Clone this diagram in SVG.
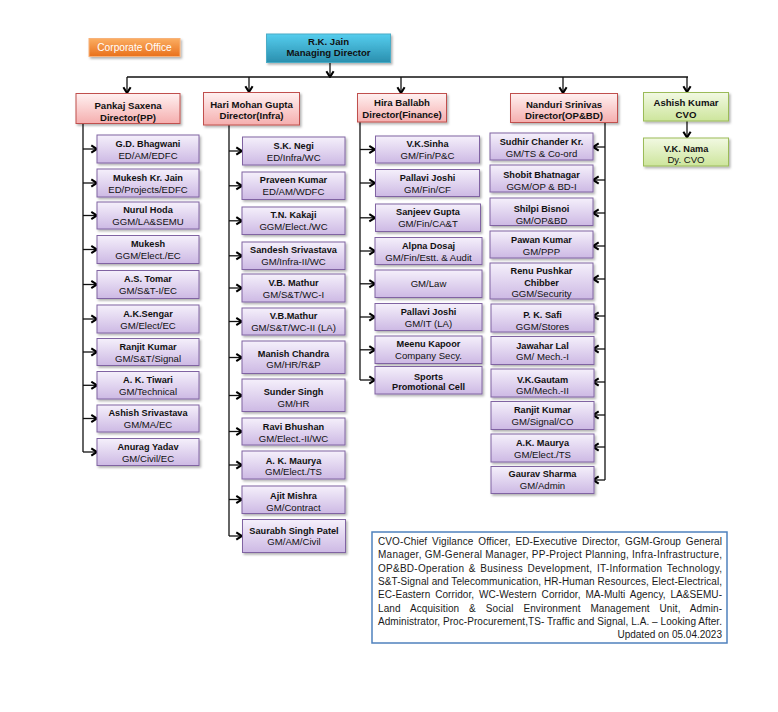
<svg xmlns="http://www.w3.org/2000/svg" width="778" height="712" viewBox="0 0 778 712">
<defs>
<linearGradient id="gPink" x1="0" y1="0" x2="0" y2="1"><stop offset="0" stop-color="#fff1f1"/><stop offset="1" stop-color="#f5aeae"/></linearGradient>
<linearGradient id="gPur" x1="0" y1="0" x2="0" y2="1"><stop offset="0" stop-color="#f5f0fb"/><stop offset="1" stop-color="#cdb9e4"/></linearGradient>
<linearGradient id="gGrn" x1="0" y1="0" x2="0" y2="1"><stop offset="0" stop-color="#f2f9e3"/><stop offset="1" stop-color="#cde59c"/></linearGradient>
<linearGradient id="gTeal" x1="0" y1="0" x2="0" y2="1"><stop offset="0" stop-color="#55cdee"/><stop offset="1" stop-color="#2a8fae"/></linearGradient>
<linearGradient id="gOr" x1="0" y1="0" x2="0" y2="1"><stop offset="0" stop-color="#fbae62"/><stop offset="1" stop-color="#e9701c"/></linearGradient>
<filter id="sh" x="-10%" y="-10%" width="125%" height="140%"><feDropShadow dx="1.5" dy="1.8" stdDeviation="1" flood-color="#000" flood-opacity="0.3"/></filter>
<marker id="ah" viewBox="0 0 10 10" refX="9" refY="5" markerWidth="9.5" markerHeight="9.5" markerUnits="userSpaceOnUse" orient="auto"><path d="M3,1.2 L9,5 L3,8.8" fill="none" stroke="#000" stroke-width="2.2"/></marker>
</defs>
<style>
.pk{fill:url(#gPink);stroke:#c0504d;stroke-width:1;filter:url(#sh)}
.pu{fill:url(#gPur);stroke:#8064a2;stroke-width:1;filter:url(#sh)}
.gr{fill:url(#gGrn);stroke:#9bbb59;stroke-width:1;filter:url(#sh)}
.tl{fill:url(#gTeal);stroke:#4bacc6;stroke-width:1;filter:url(#sh)}
.or{fill:url(#gOr);stroke:#f7b27a;stroke-width:1;filter:url(#sh)}
text{font-family:"Liberation Sans",Arial,sans-serif;text-anchor:middle;fill:#111}
.d{font-size:9.6px;font-weight:bold}
.n{font-size:9.2px;font-weight:bold}
.r{font-size:9.6px}
.w{font-size:10.2px;fill:#fff}
.lg{font-size:10px;text-anchor:start;fill:#1a1a1a}
.ln{fill:none;stroke:#111;stroke-width:1.3}
.ar{fill:none;stroke:#111;stroke-width:1.3;marker-end:url(#ah)}
</style>
<rect width="778" height="712" fill="#fff"/>

<g id="connectors">
<path class="ar" d="M330,62 V77"/>
<path class="ln" d="M127,77 H688" stroke-width="1.6"/>
<path class="ar" d="M127,77 V93"/>
<path class="ar" d="M249,77 V92"/>
<path class="ar" d="M401,77 V93"/>
<path class="ar" d="M563,77 V93"/>
<path class="ar" d="M687,77 V92"/>
<path class="ar" d="M687,121 V137.5"/>
<path class="ln" d="M83,124 V452"/>
<path class="ar" d="M83,149 H97"/><path class="ar" d="M83,183 H97"/><path class="ar" d="M83,215.5 H97"/><path class="ar" d="M83,249.5 H97"/><path class="ar" d="M83,284.5 H97"/><path class="ar" d="M83,319 H97"/><path class="ar" d="M83,352 H97"/><path class="ar" d="M83,385.3 H97"/><path class="ar" d="M83,418.5 H97"/><path class="ar" d="M83,452 H97"/>
<path class="ln" d="M229,125 V536"/>
<path class="ar" d="M229,151 H242"/><path class="ar" d="M229,185.8 H242"/><path class="ar" d="M229,220.8 H242"/><path class="ar" d="M229,255.8 H242"/><path class="ar" d="M229,288 H242"/><path class="ar" d="M229,321.5 H242"/><path class="ar" d="M229,357.5 H242"/><path class="ar" d="M229,395.5 H242"/><path class="ar" d="M229,431.5 H242"/><path class="ar" d="M229,465 H242"/><path class="ar" d="M229,499.5 H242"/><path class="ar" d="M229,536 H242"/>
<path class="ln" d="M360,122 V380"/>
<path class="ar" d="M360,149.5 H375"/><path class="ar" d="M360,183 H375"/><path class="ar" d="M360,217.8 H375"/><path class="ar" d="M360,251 H375"/><path class="ar" d="M360,283.8 H375"/><path class="ar" d="M360,317 H375"/><path class="ar" d="M360,349.8 H375"/><path class="ar" d="M360,380 H375"/>
<path class="ln" d="M605,122 V480"/>
<path class="ar" d="M605,147 H593"/><path class="ar" d="M605,180 H593"/><path class="ar" d="M605,213 H593"/><path class="ar" d="M605,246 H593"/><path class="ar" d="M605,279 H593"/><path class="ar" d="M605,316 H593"/><path class="ar" d="M605,349 H593"/><path class="ar" d="M605,382 H593"/><path class="ar" d="M605,415 H593"/><path class="ar" d="M605,447 H593"/><path class="ar" d="M605,480 H593"/>
</g>

<g id="corporate-office"><rect class="or" x="89" y="38.5" width="91" height="18"/><text class="w" x="134.5" y="51.3">Corporate Office</text></g>
<g id="md"><rect class="tl" x="266.5" y="34" width="124" height="28.5"/><text class="d" x="328.5" y="44.5">R.K. Jain</text><text class="d" x="328.5" y="56.2">Managing Director</text></g>

<g id="dir-pp"><rect class="pk" x="76" y="93.5" width="104" height="30"/><text class="d" x="128" y="109">Pankaj Saxena</text><text class="d" x="128" y="121">Director(PP)</text></g>
<g id="dir-infra"><rect class="pk" x="203.5" y="92.5" width="96" height="32.5"/><text class="d" x="251.5" y="107.8">Hari Mohan Gupta</text><text class="d" x="251.5" y="119.3">Director(Infra)</text></g>
<g id="dir-fin"><rect class="pk" x="357.5" y="93.5" width="89" height="28.5"/><text class="d" x="402" y="106.3">Hira Ballabh</text><text class="d" x="402" y="117.9">Director(Finance)</text></g>
<g id="dir-opbd"><rect class="pk" x="510.5" y="93.5" width="107" height="29"/><text class="d" x="564" y="107.5">Nanduri Srinivas</text><text class="d" x="564" y="118.6">Director(OP&amp;BD)</text></g>
<g id="cvo"><rect class="gr" x="643.5" y="92.5" width="85" height="28.5"/><text class="d" x="686" y="106.3">Ashish Kumar</text><text class="d" x="686" y="117.9">CVO</text></g>
<g id="dy-cvo"><rect class="gr" x="643.5" y="138" width="85" height="28"/><text class="n" x="686" y="151.8">V.K. Nama</text><text class="r" x="686" y="162.9">Dy. CVO</text></g>

<g id="pp-1"><rect class="pu" x="97" y="135" width="102" height="28"/><text class="n" x="148" y="146.5">G.D. Bhagwani</text><text class="r" x="148" y="158.5">ED/AM/EDFC</text></g>
<g id="pp-2"><rect class="pu" x="97" y="169" width="102" height="28"/><text class="n" x="148" y="180.5">Mukesh Kr. Jain</text><text class="r" x="148" y="192.5">ED/Projects/EDFC</text></g>
<g id="pp-3"><rect class="pu" x="97" y="202" width="102" height="27"/><text class="n" x="148" y="213">Nurul Hoda</text><text class="r" x="148" y="225">GGM/LA&amp;SEMU</text></g>
<g id="pp-4"><rect class="pu" x="97" y="235.5" width="102" height="28"/><text class="n" x="148" y="247">Mukesh</text><text class="r" x="148" y="259">GGM/Elect./EC</text></g>
<g id="pp-5"><rect class="pu" x="97" y="270.5" width="102" height="28"/><text class="n" x="148" y="282">A.S. Tomar</text><text class="r" x="148" y="294">GM/S&amp;T-I/EC</text></g>
<g id="pp-6"><rect class="pu" x="97" y="305" width="102" height="28"/><text class="n" x="148" y="316.5">A.K.Sengar</text><text class="r" x="148" y="328.5">GM/Elect/EC</text></g>
<g id="pp-7"><rect class="pu" x="97" y="338.5" width="102" height="27"/><text class="n" x="148" y="349.5">Ranjit Kumar</text><text class="r" x="148" y="361.5">GM/S&amp;T/Signal</text></g>
<g id="pp-8"><rect class="pu" x="97" y="371.5" width="102" height="27.5"/><text class="n" x="148" y="382.8">A. K. Tiwari</text><text class="r" x="148" y="394.8">GM/Technical</text></g>
<g id="pp-9"><rect class="pu" x="97" y="405" width="102" height="27"/><text class="n" x="148" y="416">Ashish Srivastava</text><text class="r" x="148" y="428">GM/MA/EC</text></g>
<g id="pp-10"><rect class="pu" x="97" y="438.5" width="102" height="27"/><text class="n" x="148" y="449.5">Anurag Yadav</text><text class="r" x="148" y="461.5">GM/Civil/EC</text></g>

<g id="in-1"><rect class="pu" x="242.5" y="137" width="102.5" height="28"/><text class="n" x="293.7" y="148.5">S.K. Negi</text><text class="r" x="293.7" y="160.5">ED/Infra/WC</text></g>
<g id="in-2"><rect class="pu" x="242" y="172" width="103" height="27.5"/><text class="n" x="293.5" y="183.3">Praveen Kumar</text><text class="r" x="293.5" y="195.3">ED/AM/WDFC</text></g>
<g id="in-3"><rect class="pu" x="242" y="207" width="103" height="27.5"/><text class="n" x="293.5" y="218.3">T.N. Kakaji</text><text class="r" x="293.5" y="230.3">GGM/Elect./WC</text></g>
<g id="in-4"><rect class="pu" x="242" y="242" width="103" height="27.5"/><text class="n" x="293.5" y="253.3">Sandesh Srivastava</text><text class="r" x="293.5" y="265.3">GM/Infra-II/WC</text></g>
<g id="in-5"><rect class="pu" x="242" y="274" width="103" height="28"/><text class="n" x="293.5" y="285.5">V.B. Mathur</text><text class="r" x="293.5" y="297.5">GM/S&amp;T/WC-I</text></g>
<g id="in-6"><rect class="pu" x="242" y="308" width="103" height="27"/><text class="n" x="293.5" y="319">V.B.Mathur</text><text class="r" x="293.5" y="331">GM/S&amp;T/WC-II (LA)</text></g>
<g id="in-7"><rect class="pu" x="242" y="341" width="103" height="32.5"/><text class="n" x="293.5" y="356.6">Manish Chandra</text><text class="r" x="293.5" y="368.3">GM/HR/R&amp;P</text></g>
<g id="in-8"><rect class="pu" x="242" y="379" width="103" height="32.5"/><text class="n" x="293.5" y="395">Sunder Singh</text><text class="r" x="293.5" y="406.6">GM/HR</text></g>
<g id="in-9"><rect class="pu" x="242" y="418" width="103" height="27"/><text class="n" x="293.5" y="429.5">Ravi Bhushan</text><text class="r" x="293.5" y="441.5">GM/Elect.-II/WC</text></g>
<g id="in-10"><rect class="pu" x="242" y="451" width="103" height="28"/><text class="n" x="293.5" y="463.5">A. K. Maurya</text><text class="r" x="293.5" y="475">GM/Elect./TS</text></g>
<g id="in-11"><rect class="pu" x="242" y="486" width="103" height="27.5"/><text class="n" x="293.5" y="498.5">Ajit Mishra</text><text class="r" x="293.5" y="510.5">GM/Contract</text></g>
<g id="in-12"><rect class="pu" x="242.5" y="519.5" width="103" height="33"/><text class="n" x="294" y="534">Saurabh Singh Patel</text><text class="r" x="294" y="545">GM/AM/Civil</text></g>

<g id="fin-1"><rect class="pu" x="375.5" y="136" width="104" height="27"/><text class="n" x="427.5" y="147">V.K.Sinha</text><text class="r" x="427.5" y="159">GM/Fin/P&amp;C</text></g>
<g id="fin-2"><rect class="pu" x="375.5" y="169.5" width="104" height="27"/><text class="n" x="427.5" y="180.5">Pallavi Joshi</text><text class="r" x="427.5" y="192.5">GM/Fin/CF</text></g>
<g id="fin-3"><rect class="pu" x="375.5" y="204" width="105" height="27.5"/><text class="n" x="428" y="215.3">Sanjeev Gupta</text><text class="r" x="428" y="227.3">GM/Fin/CA&amp;T</text></g>
<g id="fin-4"><rect class="pu" x="375" y="237.5" width="107" height="27"/><text class="n" x="428.5" y="248.5">Alpna Dosaj</text><text class="r" x="428.5" y="260.5">GM/Fin/Estt. &amp; Audit</text></g>
<g id="fin-5"><rect class="pu" x="375" y="270" width="107" height="27.5"/><text class="r" x="428.5" y="286.8">GM/Law</text></g>
<g id="fin-6"><rect class="pu" x="375" y="303.5" width="107" height="27"/><text class="n" x="428.5" y="314.5">Pallavi Joshi</text><text class="r" x="428.5" y="326.5">GM/IT (LA)</text></g>
<g id="fin-7"><rect class="pu" x="375" y="336" width="107" height="27.5"/><text class="n" x="428.5" y="347.3">Meenu Kapoor</text><text class="r" x="428.5" y="359.3">Company Secy.</text></g>
<g id="fin-8"><rect class="pu" x="375" y="366.5" width="107" height="27.5"/><text class="n" x="428.5" y="379.5">Sports</text><text class="n" x="428.5" y="390">Promotional Cell</text></g>

<g id="op-1"><rect class="pu" x="490" y="133" width="103" height="27"/><text class="n" x="541.5" y="145">Sudhir Chander Kr.</text><text class="r" x="541.5" y="157">GM/TS &amp; Co-ord</text></g>
<g id="op-2"><rect class="pu" x="490" y="165" width="103" height="27"/><text class="n" x="541.5" y="178">Shobit Bhatnagar</text><text class="r" x="541.5" y="190">GGM/OP &amp; BD-I</text></g>
<g id="op-3"><rect class="pu" x="490" y="198" width="103" height="27.5"/><text class="n" x="541.5" y="211.5">Shilpi Bisnoi</text><text class="r" x="541.5" y="223.5">GM/OP&amp;BD</text></g>
<g id="op-4"><rect class="pu" x="490" y="231" width="103" height="27"/><text class="n" x="541.5" y="243.3">Pawan Kumar</text><text class="r" x="541.5" y="255">GM/PPP</text></g>
<g id="op-5"><rect class="pu" x="490" y="263" width="103" height="36"/><text class="n" x="541.5" y="274.3">Renu Pushkar</text><text class="n" x="541.5" y="285.5">Chibber</text><text class="r" x="541.5" y="296.6">GGM/Security</text></g>
<g id="op-6"><rect class="pu" x="491" y="304" width="103" height="28"/><text class="n" x="542.5" y="318.3">P. K. Safi</text><text class="r" x="542.5" y="329.5">GGM/Stores</text></g>
<g id="op-7"><rect class="pu" x="491" y="336.5" width="103" height="28"/><text class="n" x="542.5" y="348.5">Jawahar Lal</text><text class="r" x="542.5" y="359.8">GM/ Mech.-I</text></g>
<g id="op-8"><rect class="pu" x="491" y="369" width="103" height="28"/><text class="n" x="542.5" y="382.6">V.K.Gautam</text><text class="r" x="542.5" y="394">GM/Mech.-II</text></g>
<g id="op-9"><rect class="pu" x="491" y="401.5" width="103" height="28"/><text class="n" x="542.5" y="413.3">Ranjit Kumar</text><text class="r" x="542.5" y="424.8">GM/Signal/CO</text></g>
<g id="op-10"><rect class="pu" x="491" y="434" width="103" height="28"/><text class="n" x="542.5" y="446">A.K. Maurya</text><text class="r" x="542.5" y="457.5">GM/Elect./TS</text></g>
<g id="op-11"><rect class="pu" x="491" y="466.5" width="103" height="27"/><text class="n" x="542.5" y="477.3">Gaurav Sharma</text><text class="r" x="542.5" y="489">GM/Admin</text></g>

<g id="legend">
<rect x="372" y="532" width="355" height="111" fill="#fff" stroke="#4f81bd" stroke-width="1.5"/>
<text class="lg" x="378" y="545" word-spacing="2" textLength="344" lengthAdjust="spacing">CVO-Chief Vigilance Officer, ED-Executive Director, GGM-Group General</text>
<text class="lg" x="378" y="558.3" textLength="344" lengthAdjust="spacing">Manager, GM-General Manager, PP-Project Planning, Infra-Infrastructure,</text>
<text class="lg" x="378" y="571.6" word-spacing="1.5" textLength="344" lengthAdjust="spacing">OP&amp;BD-Operation &amp; Business Development, IT-Information Technology,</text>
<text class="lg" x="378" y="584.9" textLength="344" lengthAdjust="spacing">S&amp;T-Signal and Telecommunication, HR-Human Resources, Elect-Electrical,</text>
<text class="lg" x="378" y="598.2" word-spacing="2" textLength="344" lengthAdjust="spacing">EC-Eastern Corridor, WC-Western Corridor, MA-Multi Agency, LA&amp;SEMU-</text>
<text class="lg" x="378" y="611.5" word-spacing="7" textLength="344" lengthAdjust="spacing">Land Acquisition &amp; Social Environment Management Unit, Admin-</text>
<text class="lg" x="378" y="624.8" textLength="344" lengthAdjust="spacing">Administrator, Proc-Procurement,TS- Traffic and Signal, L.A. – Looking After.</text>
<text class="lg" x="722" y="638.1" style="text-anchor:end">Updated on 05.04.2023</text>
</g>
</svg>
